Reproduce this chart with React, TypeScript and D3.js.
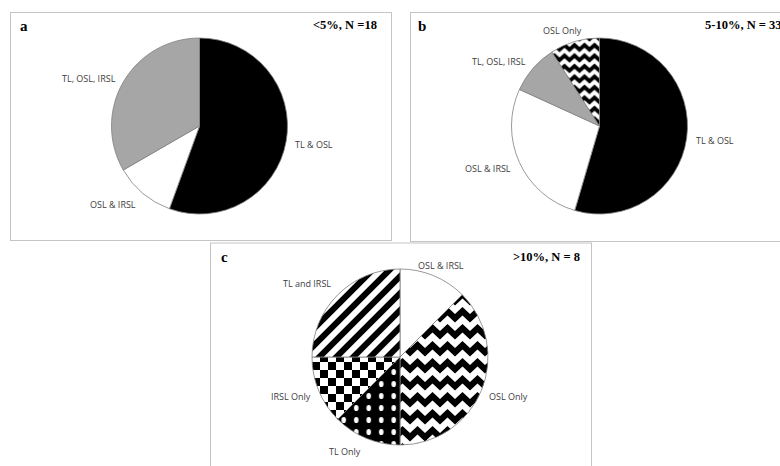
import React from "react";
import * as d3 from "d3";

const W = 780;
const H = 466;

// Panel a: <5%, N = 18
const labelsA = ["TL & OSL", "OSL & IRSL", "TL, OSL, IRSL"];
const valuesA = [10, 2, 6];
// Panel b: 5-10%, N = 33
const labelsB = ["TL & OSL", "OSL & IRSL", "TL, OSL, IRSL", "OSL Only"];
const valuesB = [18, 9, 3, 3];
// Panel c: >10%, N = 8
const labelsC = ["OSL & IRSL", "OSL Only", "TL Only", "IRSL Only", "TL and IRSL"];
const valuesC = [1, 3, 1, 1, 2];

const titles = ["<5%, N =18", "5-10%, N = 33", ">10%, N = 8"];
const letters = ["a", "b", "c"];

const fillsA = ["#000000", "#ffffff", "#a6a6a6"];
const fillsB = ["#000000", "#ffffff", "#a6a6a6", "url(#zigSmall)"];
const fillsC = ["#ffffff", "url(#zigBig)", "url(#dots)", "url(#checker)", "url(#stripes)"];

type Panel = {
  labels: string[];
  values: number[];
  fills: string[];
  box: [number, number, number, number];
  cx: number;
  cy: number;
  r: number;
  letter: string;
  letterPos: [number, number];
  title: string;
  titlePos: [number, number];
  labelPos: [number, number][];
};

const panels: Panel[] = [
  {
    labels: labelsA, values: valuesA, fills: fillsA,
    box: [10, 12, 391, 240], cx: 199.5, cy: 126, r: 88,
    letter: letters[0], letterPos: [20, 31], title: titles[0], titlePos: [313, 29],
    labelPos: [[295, 145], [90, 205], [62, 79]],
  },
  {
    labels: labelsB, values: valuesB, fills: fillsB,
    box: [410, 12, 800, 241], cx: 599.5, cy: 126, r: 88,
    letter: letters[1], letterPos: [418, 31], title: titles[1], titlePos: [705, 29],
    labelPos: [[696, 141], [465, 169], [472, 62], [543, 31]],
  },
  {
    labels: labelsC, values: valuesC, fills: fillsC,
    box: [210, 242.5, 591, 480], cx: 400, cy: 357, r: 88,
    letter: letters[2], letterPos: [221, 262], title: titles[2], titlePos: [513, 261],
    labelPos: [[418, 266], [489, 397], [329, 452], [271, 397], [283, 284]],
  },
];

function PiePanel({ p }: { p: Panel }) {
  const pie = d3.pie<number>().sort(null).value((d) => d);
  const arcs = pie(p.values);
  const arc = d3.arc<d3.PieArcDatum<number>>().innerRadius(0).outerRadius(p.r);
  const [x0, y0, x1, y1] = p.box;
  return (
    <g>
      <rect x={x0 + 0.5} y={y0 + 0.5} width={x1 - x0} height={y1 - y0} fill="#fff" stroke="#c4c4c4" strokeWidth={1} />
      <g transform={`translate(${p.cx},${p.cy})`}>
        {arcs.map((a, i) => (
          <path key={i} d={arc(a) || ""} fill={p.fills[i]} stroke="#7f7f7f" strokeWidth={0.8} />
        ))}
      </g>
      {p.labels.map((l, i) => (
        <text key={l} x={p.labelPos[i][0]} y={p.labelPos[i][1]} dy="0.35em"
          fontFamily="'Open Sans', sans-serif" fontSize={9} fill="#404040">{l}</text>
      ))}
      <text x={p.letterPos[0]} y={p.letterPos[1]} fontFamily="'Liberation Serif', serif" fontWeight="bold" fontSize={15} fill="#000">{p.letter}</text>
      <text x={p.titlePos[0]} y={p.titlePos[1]} fontFamily="'Liberation Serif', serif" fontWeight="bold" fontSize={12.5} fill="#000">{p.title}</text>
    </g>
  );
}

export default function App() {
  return (
    <svg width={W} height={H} style={{ position: "absolute", left: 0, top: 0, background: "#fff" }}>
      <defs>
        <pattern id="zigBig" patternUnits="userSpaceOnUse" width={15} height={17} x={400} y={357}>
          <rect width={15} height={17} fill="#fff" />
          <polygon points="0,8 7.5,1 15,8 15,16.5 7.5,9.5 0,16.5" fill="#000" />
        </pattern>
        <pattern id="zigSmall" patternUnits="userSpaceOnUse" width={10} height={10.5} x={0} y={0}>
          <rect width={10} height={10.5} fill="#fff" />
          <polygon points="0,5 5,0.5 10,5 10,10.2 5,5.7 0,10.2" fill="#000" />
        </pattern>
        <pattern id="stripes" patternUnits="userSpaceOnUse" width={12} height={12} patternTransform="rotate(45)">
          <rect width={12} height={12} fill="#fff" />
          <rect width={6} height={12} fill="#000" />
        </pattern>
        <pattern id="checker" patternUnits="userSpaceOnUse" width={16} height={16} x={312} y={357}>
          <rect width={16} height={16} fill="#fff" />
          <rect width={8} height={8} fill="#000" />
          <rect x={8} y={8} width={8} height={8} fill="#000" />
        </pattern>
        <pattern id="dots" patternUnits="userSpaceOnUse" width={12.5} height={12} x={400} y={357}>
          <rect width={12.5} height={12} fill="#000" />
          <ellipse cx={6.25} cy={6} rx={2.3} ry={3.1} fill="#fff" />
        </pattern>
      </defs>
      <rect width={W} height={H} fill="#fff" />
      {panels.map((p, i) => (
        <PiePanel key={i} p={p} />
      ))}
    </svg>
  );
}
